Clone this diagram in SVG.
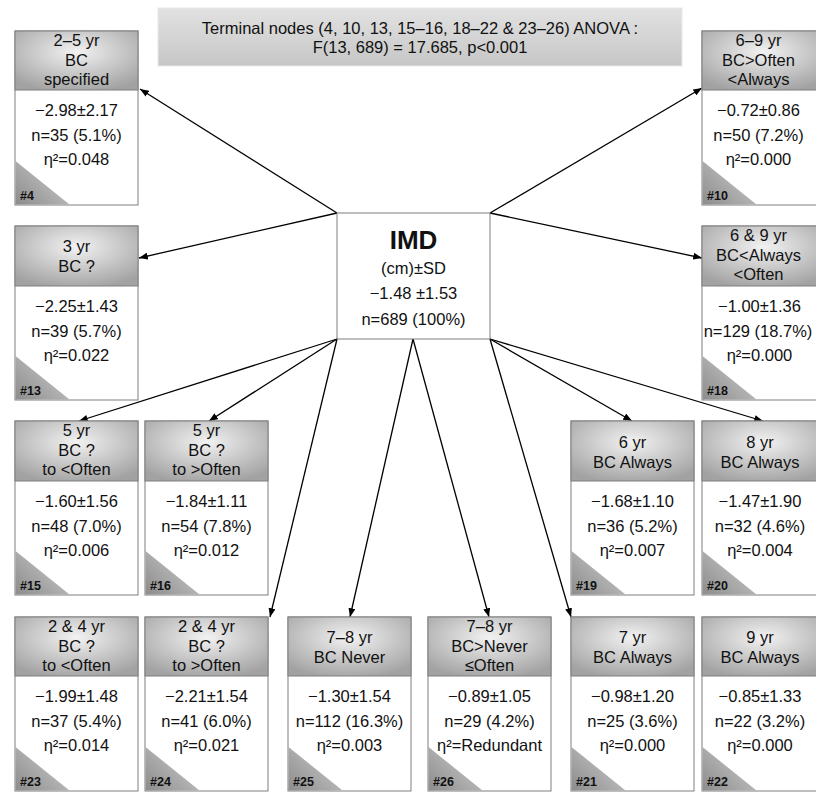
<svg xmlns="http://www.w3.org/2000/svg" width="816" height="794" viewBox="0 0 816 794">
<defs>
<radialGradient id="hg" cx="50%" cy="35%" r="70%">
<stop offset="0" stop-color="#f2f2f2"/>
<stop offset="1" stop-color="#a2a2a2"/>
</radialGradient>
<linearGradient id="tg" x1="0" y1="44" x2="40" y2="4" gradientUnits="userSpaceOnUse">
<stop offset="0" stop-color="#8c8c8c"/>
<stop offset="1" stop-color="#c4c4c4"/>
</linearGradient>
<linearGradient id="bg" x1="0" y1="0" x2="0" y2="1">
<stop offset="0" stop-color="#e2e2e2"/>
<stop offset="1" stop-color="#c6c6c6"/>
</linearGradient>
<marker id="ah" viewBox="0 0 10 8" refX="10" refY="4" markerWidth="9" markerHeight="7" markerUnits="userSpaceOnUse" orient="auto">
<path d="M0,0 L10,4 L0,8 z" fill="#000"/>
</marker>
<path id="tri" d="M0,0 L0,43.5 L54,43.5 z" fill="url(#tg)"/>
</defs>
<style>
text{font-family:"Liberation Sans",Arial,sans-serif;fill:#111;text-anchor:middle}
.t{font-size:16.5px}
.b{font-size:16.5px}
.id{font-size:12.5px;font-weight:bold;text-anchor:start}
.box{fill:#fff;stroke:#7f7f7f;stroke-width:1}
.hd{fill:url(#hg);stroke:#7f7f7f;stroke-width:1}
.c line{stroke:#000;stroke-width:1.3;marker-end:url(#ah)}
</style>
<rect width="816" height="794" fill="#fff"/>

<g id="banner">
<rect x="158" y="8" width="524" height="58" fill="url(#bg)" stroke="#e8e8e8" stroke-width="1"/>
<text class="t" x="420" y="34">Terminal nodes (4, 10, 13, 15–16, 18–22 &amp; 23–26) ANOVA :</text>
<text class="t" x="420" y="53">F(13, 689) = 17.685, p&lt;0.001</text>
</g>

<g class="c" id="connectors">
<line x1="337" y1="213" x2="140" y2="89"/>
<line x1="490" y1="213" x2="702" y2="88"/>
<line x1="337" y1="213" x2="139" y2="258"/>
<line x1="490" y1="213" x2="702" y2="258"/>
<line x1="337" y1="339" x2="79" y2="421"/>
<line x1="337" y1="339" x2="209" y2="421"/>
<line x1="337" y1="339" x2="270" y2="617"/>
<line x1="413" y1="339" x2="350" y2="617"/>
<line x1="413" y1="339" x2="489" y2="617"/>
<line x1="490" y1="339" x2="571" y2="617"/>
<line x1="490" y1="339" x2="632" y2="421"/>
<line x1="490" y1="339" x2="763" y2="421"/>
</g>

<g id="root">
<rect x="337" y="213" width="153" height="126" fill="#fff" stroke="#7f7f7f" stroke-width="1"/>
<text x="413.5" y="249" style="font-size:26px;font-weight:bold">IMD</text>
<text class="b" x="413.5" y="274">(cm)±SD</text>
<text class="b" x="413.5" y="299">−1.48 ±1.53</text>
<text class="b" x="413.5" y="325">n=689 (100%)</text>
</g>

<g id="n4" transform="translate(15,31)">
<rect class="box" width="123" height="174"/><rect class="hd" width="123" height="59"/>
<use href="#tri" x="0.5" y="130"/>
<text class="t" x="61.5" y="15">2–5 yr</text><text class="t" x="61.5" y="35">BC</text><text class="t" x="61.5" y="54">specified</text>
<text class="b" x="61.5" y="85">−2.98±2.17</text><text class="b" x="61.5" y="110">n=35 (5.1%)</text><text class="b" x="61.5" y="134">η²=0.048</text>
<text class="id" x="5" y="169">#4</text>
</g>

<g id="n10" transform="translate(702,31)">
<rect class="box" width="123" height="174"/><rect class="hd" width="123" height="59"/>
<use href="#tri" x="0.5" y="130"/>
<text class="t" x="56.5" y="15">6–9 yr</text><text class="t" x="56.5" y="35">BC&gt;Often</text><text class="t" x="56.5" y="54">&lt;Always</text>
<text class="b" x="56.5" y="85">−0.72±0.86</text><text class="b" x="56.5" y="110">n=50 (7.2%)</text><text class="b" x="56.5" y="134">η²=0.000</text>
<text class="id" x="5" y="169">#10</text>
</g>

<g id="n13" transform="translate(15,226)">
<rect class="box" width="123" height="174"/><rect class="hd" width="123" height="60"/>
<use href="#tri" x="0.5" y="130"/>
<text class="t" x="61.5" y="26">3 yr</text><text class="t" x="61.5" y="46">BC ?</text>
<text class="b" x="61.5" y="86">−2.25±1.43</text><text class="b" x="61.5" y="111">n=39 (5.7%)</text><text class="b" x="61.5" y="135">η²=0.022</text>
<text class="id" x="5" y="169">#13</text>
</g>

<g id="n18" transform="translate(702,226)">
<rect class="box" width="123" height="174"/><rect class="hd" width="123" height="60"/>
<use href="#tri" x="0.5" y="130"/>
<text class="t" x="56.5" y="15">6 &amp; 9 yr</text><text class="t" x="56.5" y="35">BC&lt;Always</text><text class="t" x="56.5" y="54">&lt;Often</text>
<text class="b" x="57.5" y="86">−1.00±1.36</text><text class="b" x="56" y="111">n=129 (18.7%)</text><text class="b" x="57.5" y="135">η²=0.000</text>
<text class="id" x="5" y="169">#18</text>
</g>

<g id="n15" transform="translate(15,421)">
<rect class="box" width="123" height="174"/><rect class="hd" width="123" height="60"/>
<use href="#tri" x="0.5" y="130"/>
<text class="t" x="61.5" y="15">5 yr</text><text class="t" x="61.5" y="35">BC ?</text><text class="t" x="61.5" y="54">to &lt;Often</text>
<text class="b" x="61.5" y="86">−1.60±1.56</text><text class="b" x="61.5" y="111">n=48 (7.0%)</text><text class="b" x="61.5" y="135">η²=0.006</text>
<text class="id" x="5" y="169">#15</text>
</g>

<g id="n16" transform="translate(145,421)">
<rect class="box" width="123" height="174"/><rect class="hd" width="123" height="60"/>
<use href="#tri" x="0.5" y="130"/>
<text class="t" x="61.5" y="15">5 yr</text><text class="t" x="61.5" y="35">BC ?</text><text class="t" x="61.5" y="54">to &gt;Often</text>
<text class="b" x="61.5" y="86">−1.84±1.11</text><text class="b" x="61.5" y="111">n=54 (7.8%)</text><text class="b" x="61.5" y="135">η²=0.012</text>
<text class="id" x="5" y="169">#16</text>
</g>

<g id="n19" transform="translate(571,421)">
<rect class="box" width="123" height="174"/><rect class="hd" width="123" height="60"/>
<use href="#tri" x="0.5" y="130"/>
<text class="t" x="61.5" y="27">6 yr</text><text class="t" x="61.5" y="47">BC Always</text>
<text class="b" x="61.5" y="86">−1.68±1.10</text><text class="b" x="61.5" y="111">n=36 (5.2%)</text><text class="b" x="61.5" y="135">η²=0.007</text>
<text class="id" x="5" y="169">#19</text>
</g>

<g id="n20" transform="translate(702,421)">
<rect class="box" width="123" height="174"/><rect class="hd" width="123" height="60"/>
<use href="#tri" x="0.5" y="130"/>
<text class="t" x="58" y="27">8 yr</text><text class="t" x="58" y="47">BC Always</text>
<text class="b" x="58" y="86">−1.47±1.90</text><text class="b" x="58" y="111">n=32 (4.6%)</text><text class="b" x="58" y="135">η²=0.004</text>
<text class="id" x="5" y="169">#20</text>
</g>

<g id="n23" transform="translate(15,617)">
<rect class="box" width="123" height="174"/><rect class="hd" width="123" height="59"/>
<use href="#tri" x="0.5" y="130"/>
<text class="t" x="61.5" y="15">2 &amp; 4 yr</text><text class="t" x="61.5" y="35">BC ?</text><text class="t" x="61.5" y="54">to &lt;Often</text>
<text class="b" x="61.5" y="85">−1.99±1.48</text><text class="b" x="61.5" y="110">n=37 (5.4%)</text><text class="b" x="61.5" y="134">η²=0.014</text>
<text class="id" x="5" y="169">#23</text>
</g>

<g id="n24" transform="translate(145,617)">
<rect class="box" width="123" height="174"/><rect class="hd" width="123" height="59"/>
<use href="#tri" x="0.5" y="130"/>
<text class="t" x="61.5" y="15">2 &amp; 4 yr</text><text class="t" x="61.5" y="35">BC ?</text><text class="t" x="61.5" y="54">to &gt;Often</text>
<text class="b" x="61.5" y="85">−2.21±1.54</text><text class="b" x="61.5" y="110">n=41 (6.0%)</text><text class="b" x="61.5" y="134">η²=0.021</text>
<text class="id" x="5" y="169">#24</text>
</g>

<g id="n25" transform="translate(288,617)">
<rect class="box" width="123" height="174"/><rect class="hd" width="123" height="59"/>
<use href="#tri" x="0.5" y="130"/>
<text class="t" x="61.5" y="26">7–8 yr</text><text class="t" x="61.5" y="46">BC Never</text>
<text class="b" x="61.5" y="85">−1.30±1.54</text><text class="b" x="61.5" y="110">n=112 (16.3%)</text><text class="b" x="61.5" y="134">η²=0.003</text>
<text class="id" x="5" y="169">#25</text>
</g>

<g id="n26" transform="translate(428,617)">
<rect class="box" width="123" height="174"/><rect class="hd" width="123" height="59"/>
<use href="#tri" x="0.5" y="130"/>
<text class="t" x="61.5" y="15">7–8 yr</text><text class="t" x="61.5" y="35">BC&gt;Never</text><text class="t" x="61.5" y="54">≤Often</text>
<text class="b" x="61.5" y="85">−0.89±1.05</text><text class="b" x="61.5" y="110">n=29 (4.2%)</text><text class="b" x="61.5" y="134">η²=Redundant</text>
<text class="id" x="5" y="169">#26</text>
</g>

<g id="n21" transform="translate(571,617)">
<rect class="box" width="123" height="174"/><rect class="hd" width="123" height="59"/>
<use href="#tri" x="0.5" y="130"/>
<text class="t" x="61.5" y="26">7 yr</text><text class="t" x="61.5" y="46">BC Always</text>
<text class="b" x="61.5" y="85">−0.98±1.20</text><text class="b" x="61.5" y="110">n=25 (3.6%)</text><text class="b" x="61.5" y="134">η²=0.000</text>
<text class="id" x="5" y="169">#21</text>
</g>

<g id="n22" transform="translate(702,617)">
<rect class="box" width="123" height="174"/><rect class="hd" width="123" height="59"/>
<use href="#tri" x="0.5" y="130"/>
<text class="t" x="58" y="26">9 yr</text><text class="t" x="58" y="46">BC Always</text>
<text class="b" x="58" y="85">−0.85±1.33</text><text class="b" x="58" y="110">n=22 (3.2%)</text><text class="b" x="58" y="134">η²=0.000</text>
<text class="id" x="5" y="169">#22</text>
</g>
</svg>
